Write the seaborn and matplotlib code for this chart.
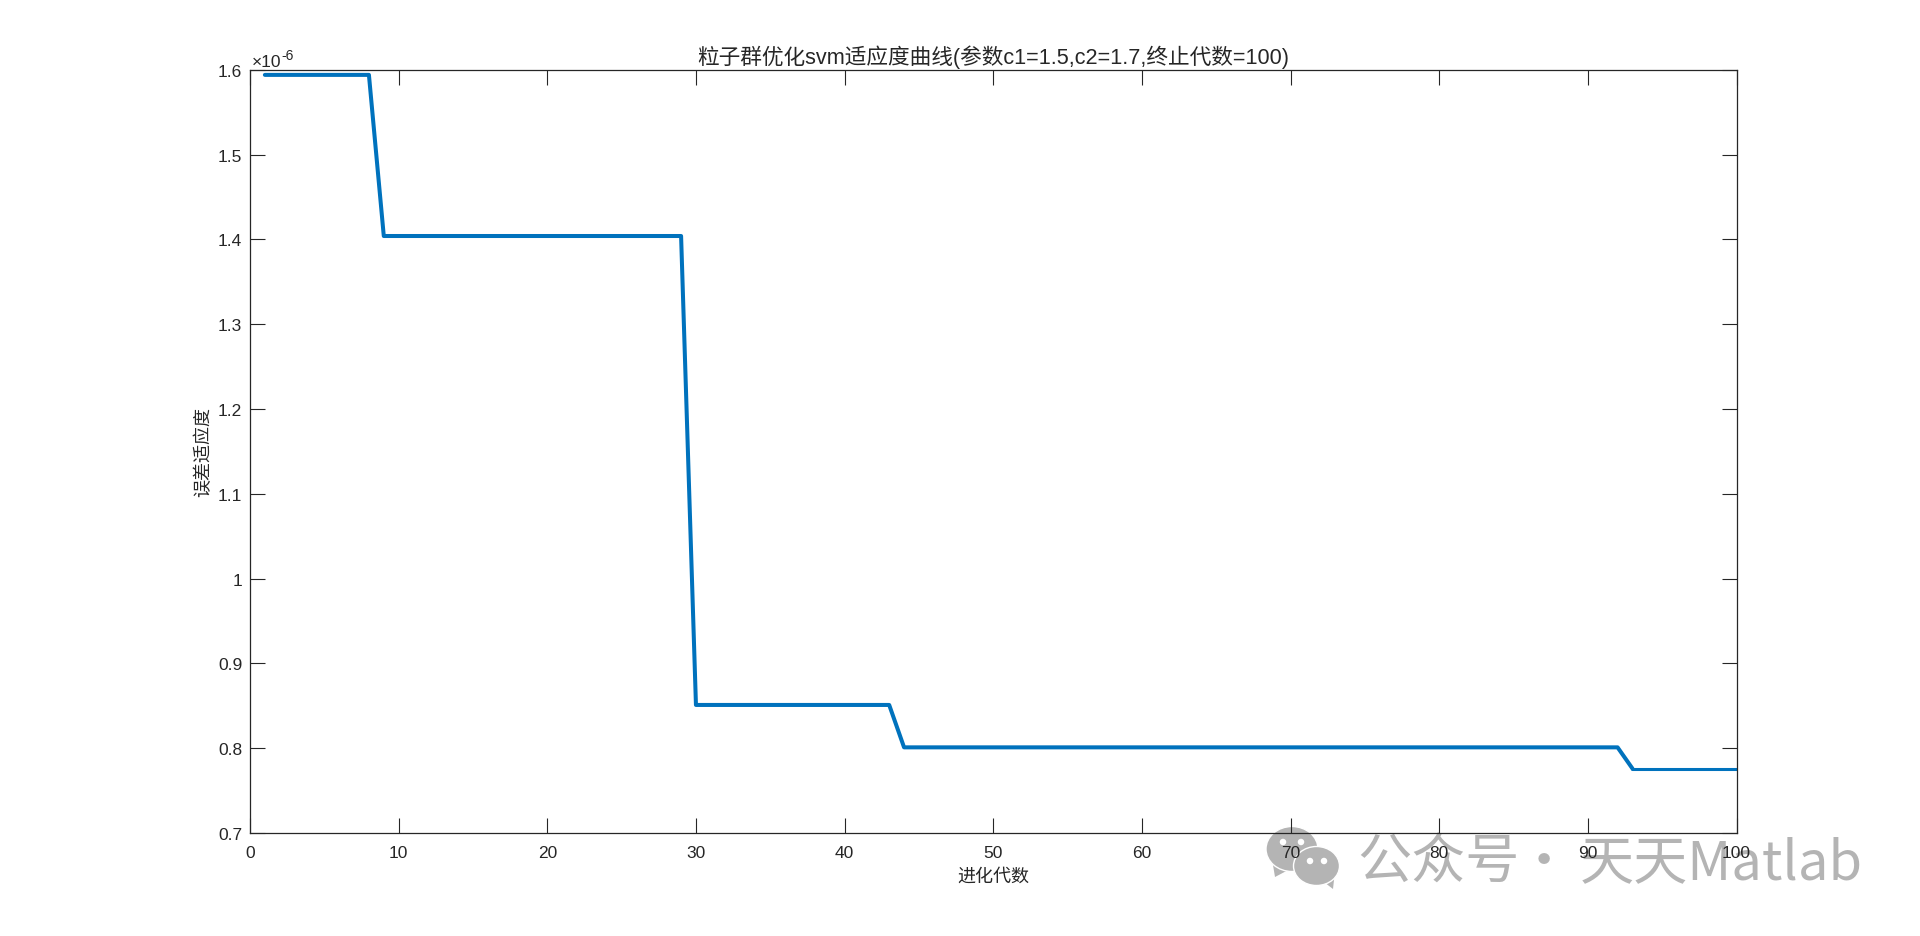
import seaborn as sns
import matplotlib.pyplot as plt
import pandas as pd
from matplotlib.patches import Ellipse, Polygon

# fitness curve breakpoints (values in units of 1e-6)
generations = [1, 8, 9, 29, 30, 43, 44, 92, 93]
fitness = [1.594, 1.594, 1.404, 1.404, 0.851, 0.851, 0.801, 0.801, 0.776]
# last stretch is drawn thinner in the original
tail_generations = [93, 100]
tail_fitness = [0.776, 0.776]

x_ticks = [0, 10, 20, 30, 40, 50, 60, 70, 80, 90, 100]
y_ticks = [0.7, 0.8, 0.9, 1.0, 1.1, 1.2, 1.3, 1.4, 1.5, 1.6]
y_labels = ['0.7', '0.8', '0.9', '1', '1.1', '1.2', '1.3', '1.4', '1.5', '1.6']

title = '粒子群优化svm适应度曲线(参数c1=1.5,c2=1.7,终止代数=100)'
x_name = '进化代数'
y_name = '误差适应度'

W, H = 1920, 937
L, R, T, B = 250, 1736.5, 70.8, 834
TEXT = '#262626'
MARK = '#b4b4b4'
CJK = ['Noto Sans CJK SC', 'DejaVu Sans']

sns.set_style('white')
plt.rcParams['font.family'] = ['Liberation Sans', 'Noto Sans CJK SC', 'DejaVu Sans']

df = pd.DataFrame({'gen': generations, 'fit': fitness})
tail = pd.DataFrame({'gen': tail_generations, 'fit': tail_fitness})

fig = plt.figure(figsize=(W / 100, H / 100), dpi=100)
ax = fig.add_axes([L / W, 1 - B / H, (R - L) / W, (B - T) / H])
ax.set_zorder(20)
ax.patch.set_visible(False)

sns.lineplot(data=df, x='gen', y='fit', color='#0072BD', linewidth=2.9, ax=ax,
             errorbar=None, estimator=None, sort=False)
sns.lineplot(data=tail, x='gen', y='fit', color='#0072BD', linewidth=2.2, ax=ax,
             errorbar=None, estimator=None, sort=False)

ax.set_xlim(0, 100)
ax.set_ylim(0.7, 1.6)
ax.set_xticks(x_ticks)
ax.set_yticks(y_ticks)
ax.set_yticklabels(y_labels)
ax.tick_params(direction='in', length=10.5, width=0.8, color=TEXT, labelcolor=TEXT,
               labelsize=12.5, top=True, right=True, bottom=True, left=True)
ax.tick_params(axis='x', pad=9)
ax.tick_params(axis='y', pad=5.5)
for s in ax.spines.values():
    s.set_linewidth(0.9)
    s.set_color(TEXT)
    s.set_visible(True)

ax.set_title(title, fontsize=15.6, color=TEXT, pad=5)
ax.set_xlabel(x_name, fontsize=13, color=TEXT)
ax.set_ylabel(y_name, fontsize=13, color=TEXT)
ax.xaxis.set_label_coords(0.5, (B - 869) / (B - T))
ax.yaxis.set_label_coords((212 - L) / (R - L), 0.5)

# axis exponent
fig.text(252 / W, 1 - 67 / H, '×10', fontsize=12.5, color=TEXT, va='baseline')
fig.text(281 / W, 1 - 60 / H, '-6', fontsize=10, color=TEXT, va='baseline')

# watermark, sits under the axes
for txt, x in [('公众号', 1357), ('·', 1517), ('天天Matlab', 1580)]:
    fig.text(x / W, 1 - 879 / H, txt, fontsize=39, color=MARK, va='baseline', ha='left', family=CJK)

for pts in [[(1272, 860), (1275, 878), (1294, 868)], [(1320, 880), (1333, 890), (1335, 872)]]:
    fig.add_artist(Polygon([(x / W, 1 - y / H) for x, y in pts], transform=fig.transFigure,
                           fc=MARK, ec='none', zorder=4))
for cx, cy, w, h in [(1292, 850, 52, 45), (1316.5, 867, 46, 39)]:
    fig.add_artist(Ellipse((cx / W, 1 - cy / H), w / W, h / H, transform=fig.transFigure,
                           fc=MARK, ec='white', lw=1.0, zorder=4))
for cx, cy in [(1283, 843), (1301, 843), (1310, 862), (1324, 862)]:
    fig.add_artist(Ellipse((cx / W, 1 - cy / H), 6.5 / W, 6.5 / H, transform=fig.transFigure,
                           fc='white', ec='none', zorder=5))

fig.savefig('out.png', dpi=100)
plt.close()
